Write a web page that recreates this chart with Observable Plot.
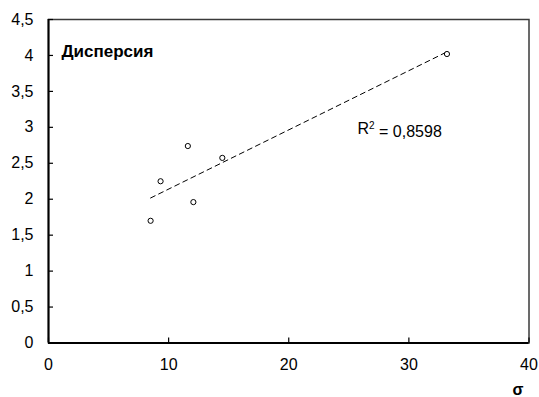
<!DOCTYPE html>
<html>
<head>
<meta charset="utf-8">
<script src="https://cdn.jsdelivr.net/npm/d3@7"></script>
<script src="https://cdn.jsdelivr.net/npm/@observablehq/plot@0.6"></script>
<style>
  html, body { margin: 0; padding: 0; background: #fff; }
  #chart svg { display: block; }
</style>
</head>
<body>
<div id="chart"></div>
<script>
const sigma = [8.5, 9.33, 11.6, 12.06, 14.47, 33.17];
const dispersion = [1.70, 2.25, 2.74, 1.96, 2.575, 4.02];
const xTicks = [0, 10, 20, 30, 40];
const yTicks = [0, 0.5, 1, 1.5, 2, 2.5, 3, 3.5, 4, 4.5];
const seriesLabel = "Дисперсия";
const r2Label = "R2 = 0,8598";
const xLabel = "σ";

const data = sigma.map((s, i) => ({x: s, y: dispersion[i]}));
const fmt = d => String(d).replace(".", ",");

const W = 539, H = 397, ML = 48, MT = 19, MR = 10.5, MB = 54.5;
const TICK = 5;

const chart = Plot.plot({
  width: W,
  height: H,
  marginLeft: ML,
  marginTop: MT,
  marginRight: MR,
  marginBottom: MB,
  style: {fontFamily: "'Liberation Sans', Arial, sans-serif", fontSize: "16px", color: "#000", background: "#fff"},
  x: {domain: [0, 40], ticks: xTicks},
  y: {domain: [0, 4.5], ticks: yTicks},
  marks: [
    Plot.frame({stroke: "#3a3a3a", strokeWidth: 1.5}),
    // inward tick marks
    Plot.tickX(xTicks, {x: d => d, insetTop: (H - MT - MB) - TICK, stroke: "#000", strokeWidth: 1.2}),
    Plot.tickY(yTicks, {y: d => d, insetRight: (W - ML - MR) - TICK, stroke: "#000", strokeWidth: 1.2}),
    Plot.axisX(xTicks, {tickSize: 0, tickPadding: 16, tickFormat: fmt, label: null, fontSize: 16}),
    Plot.axisY(yTicks, {tickSize: 0, tickPadding: 15, tickFormat: fmt, label: null, fontSize: 16}),
    Plot.ruleX([0], {stroke: "#000", strokeWidth: 2}),
    Plot.ruleY([0], {stroke: "#000", strokeWidth: 2}),
    Plot.linearRegressionY(data, {x: "x", y: "y", ci: 0, stroke: "#000", strokeWidth: 1, strokeDasharray: "5,4"}),
    Plot.dot(data, {x: "x", y: "y", r: 2.6, stroke: "#000", fill: "#fff", strokeWidth: 1}),
    Plot.text([seriesLabel], {frameAnchor: "top-left", dx: 13, dy: 25, textAnchor: "start", fontWeight: "bold", fontSize: 17}),
    Plot.text([r2Label], {frameAnchor: "top-left", dx: 309, dy: 103, textAnchor: "start", fontSize: 16, className: "r2-label"}),
    Plot.text([xLabel], {frameAnchor: "bottom-right", dx: -11, dy: 52, textAnchor: "middle", fontWeight: "bold", fontSize: 16})
  ]
});
// render the "2" of R2 as a superscript
d3.select(chart).selectAll(".r2-label text").each(function() {
  const t = d3.select(this);
  const s = t.text();
  t.text(null);
  t.append("tspan").text(s.slice(0, 1));
  t.append("tspan").attr("dy", "-0.45em").attr("font-size", "10px").text(s.slice(1, 2));
  t.append("tspan").attr("dy", "0.45em").text(s.slice(2));
});
document.getElementById("chart").appendChild(chart);
</script>
</body>
</html>
